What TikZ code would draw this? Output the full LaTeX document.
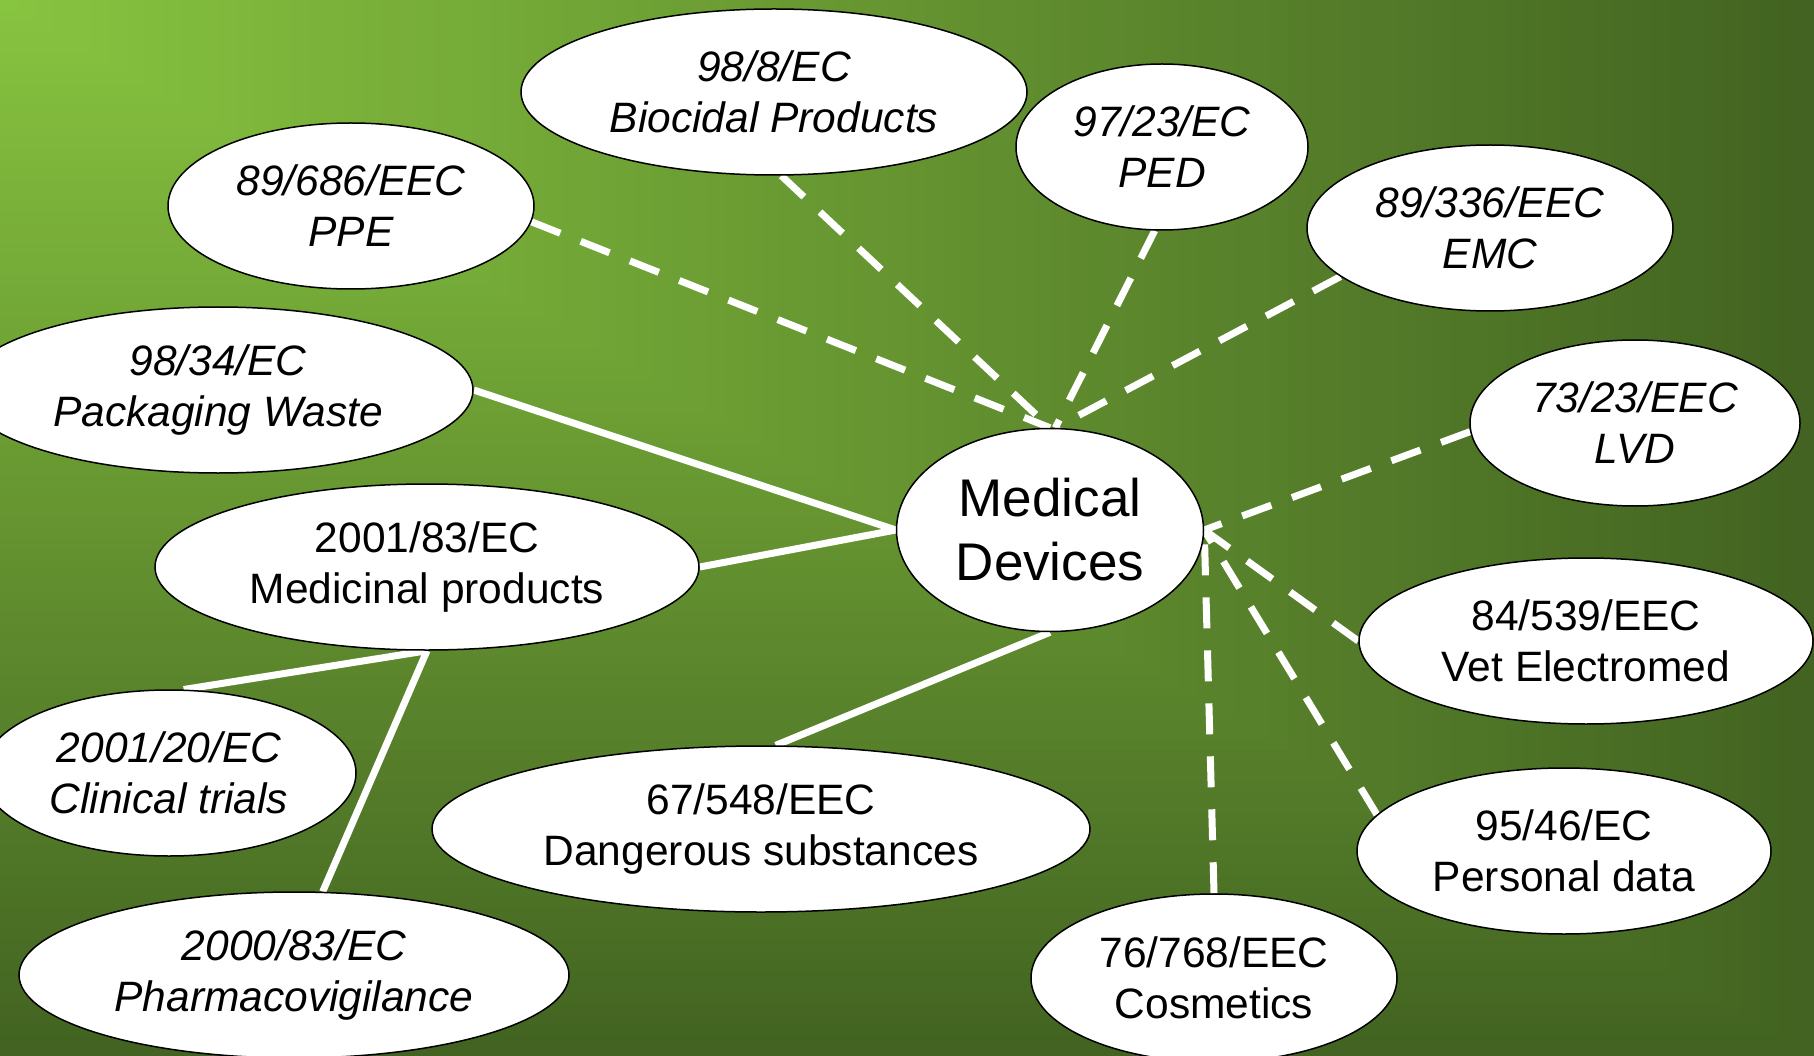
\documentclass[tikz,border=0pt]{standalone}
\usepackage{fontspec}
\setmainfont{Liberation Sans}
\usetikzlibrary{shapes.geometric}
\definecolor{bglight}{RGB}{136,197,64}
\definecolor{bgdark}{RGB}{66,99,33}
\pgfdeclarelayer{bglayer}
\pgfdeclarelayer{links}
\pgfsetlayers{bglayer,links,main}
\begin{document}
\begin{tikzpicture}[x=1pt,y=-1pt,
  box/.style={ellipse, draw=black, line width=1.5pt, fill=white, inner sep=0pt, align=center, font=\fontsize{42.5}{51}\selectfont},
  ital/.style={font=\fontsize{42.5}{51}\selectfont\itshape},
  solidlink/.style={white, line width=7pt},
  dashlink/.style={white, line width=7pt, dash pattern=on 31pt off 22pt}]
\clip (0,0) rectangle (1814,1056);
\begin{pgfonlayer}{bglayer}
\foreach \i in {100,99,...,1}{
  \fill[bgdark!\i!bglight] (0,0) rectangle ({\i*18.14},{\i*10.56});
}
\end{pgfonlayer}

\node[box, ital, minimum width=506pt, minimum height=166pt] (bio) at (774,92) {98/8/EC\\Biocidal Products};
\node[box, ital, minimum width=292pt, minimum height=166pt] (ped) at (1162,147) {97/23/EC\\PED};
\node[box, ital, minimum width=366pt, minimum height=166pt] (ppe) at (351,206) {89/686/EEC\\PPE};
\node[box, ital, minimum width=366pt, minimum height=166pt] (emc) at (1490,228) {89/336/EEC\\EMC};
\node[box, ital, minimum width=510pt, minimum height=166pt] (pw) at (218,390) {98/34/EC\\Packaging Waste};
\node[box, ital, minimum width=330pt, minimum height=166pt] (lvd) at (1635,423) {73/23/EEC\\LVD};
\node[box, minimum width=307pt, minimum height=203pt, font=\fontsize{53}{64}\selectfont] (md) at (1050,530) {Medical\\Devices};
\node[box, minimum width=544pt, minimum height=166pt] (med) at (427,567) {2001/83/EC\\Medicinal products};
\node[box, minimum width=454pt, minimum height=166pt] (vet) at (1586,641) {84/539/EEC\\Vet Electromed};
\node[box, ital, minimum width=374pt, minimum height=166pt] (ct) at (169,773) {2001/20/EC\\Clinical trials};
\node[box, minimum width=658pt, minimum height=166pt] (ds) at (761,829) {67/548/EEC\\Dangerous substances};
\node[box, minimum width=414pt, minimum height=166pt] (pd) at (1564,851) {95/46/EC\\Personal data};
\node[box, ital, minimum width=550pt, minimum height=166pt] (ph) at (294,975) {2000/83/EC\\Pharmacovigilance};
\node[box, minimum width=366pt, minimum height=168pt] (cos) at (1214,978) {76/768/EEC\\Cosmetics};

\begin{pgfonlayer}{links}
\draw[dashlink] (ppe.-5) -- (md.north);
\draw[dashlink] (bio.-85) -- (md.north);
\draw[dashlink] (ped.-95) -- (md.87);
\draw[dashlink] (emc.198) -- (md.87);
\draw[dashlink] (lvd.183) -- (md.east);
\draw[dashlink] (vet.west) -- (md.east);
\draw[dashlink] (pd.169) -- (md.east);
\draw[dashlink] (cos.north) -- (md.east);
\draw[solidlink] (pw.east) -- (md.west);
\draw[solidlink] (med.east) -- (md.west);
\draw[solidlink] (ds.80) -- (md.south);
\draw[solidlink] (med.south) -- (ct.80);
\draw[solidlink] (med.south) -- (ph.71);
\end{pgfonlayer}
\end{tikzpicture}
\end{document}
